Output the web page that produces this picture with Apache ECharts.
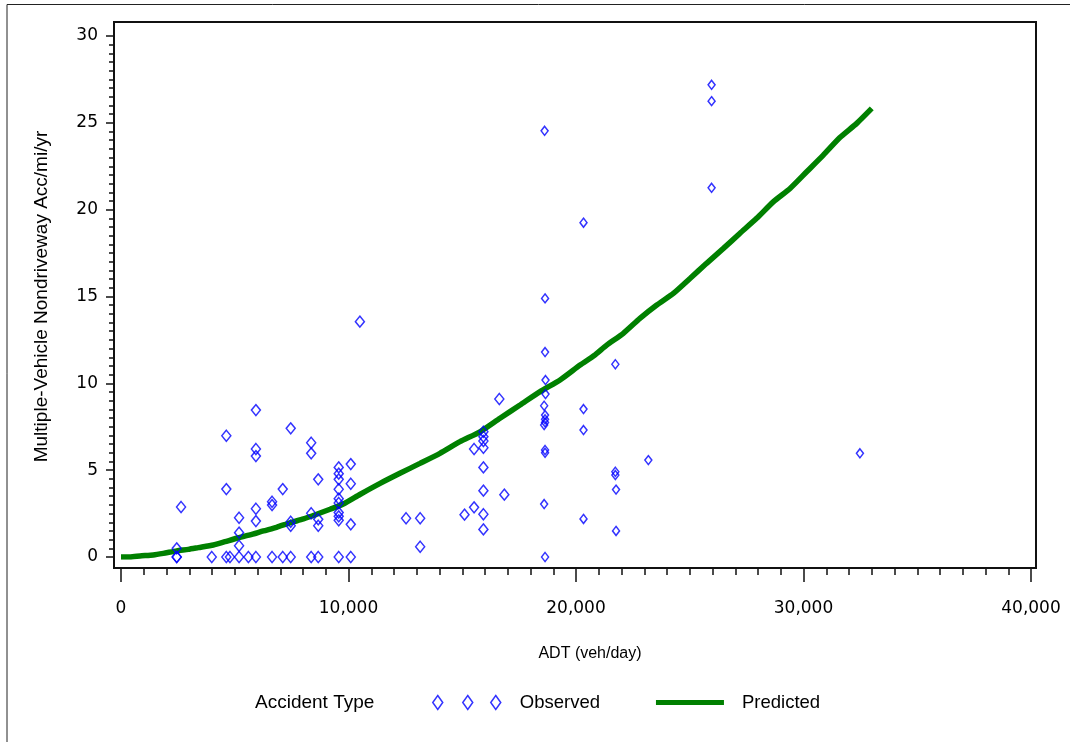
<!DOCTYPE html>
<html>
<head>
<meta charset="utf-8">
<script src="https://cdn.jsdelivr.net/npm/echarts@6/dist/echarts.min.js"></script>
<style>
  html, body { margin: 0; padding: 0; background: #fff; }
  #chart { width: 1070px; height: 742px; }
</style>
</head>
<body>
<div id="chart"></div>
<script>
// observed accident rates as [ADT, rate]
const observedZero = [2450, 2450, 3990, 4630, 4790, 5190, 5600, 5930, 6640, 7110, 7460, 8360, 8670, 9570, 10100, 18640]
const observedPoints = [
  [2450, 0.5], [2640, 2.88],
  [4630, 6.98], [4630, 3.91],
  [5190, 2.26], [5190, 1.40], [5190, 0.65],
  [5930, 8.46], [5930, 6.22], [5930, 5.81], [5930, 2.78], [5930, 2.07],
  [6640, 3.18], [6640, 2.99],
  [7110, 3.91],
  [7460, 7.41], [7460, 2.03], [7460, 1.80],
  [8360, 6.58], [8360, 5.97], [8360, 2.52],
  [8670, 4.47], [8670, 2.17], [8670, 1.80],
  [9570, 5.16], [9570, 4.80], [9570, 4.47], [9570, 3.90], [9570, 3.36], [9570, 3.11], [9570, 2.56], [9570, 2.34], [9570, 2.11],
  [10100, 5.35], [10100, 4.22], [10100, 1.88],
  [10500, 13.55],
  [12530, 2.23], [13150, 2.23], [13150, 0.59],
  [15100, 2.44], [15520, 6.22], [15520, 2.86],
  [15930, 7.21], [15930, 6.93], [15930, 6.68], [15930, 6.29], [15930, 5.16], [15930, 3.82], [15930, 2.46], [15930, 1.59],
  [16630, 9.10], [16850, 3.59],
  [18620, 24.54], [18640, 14.89], [18640, 11.8], [18660, 10.19], [18660, 9.38], [18600, 8.71], [18640, 8.17], [18640, 7.93], [18640, 7.75], [18600, 7.60],
  [18640, 6.16], [18640, 6.00], [18600, 3.05],
  [20330, 19.25], [20330, 8.52], [20330, 7.31], [20330, 2.19],
  [21730, 11.1], [21730, 4.91], [21730, 4.72], [21760, 3.88], [21760, 1.50],
  [23180, 5.58],
  [25960, 27.19], [25960, 26.25], [25960, 21.26],
  [32480, 5.97]
]

// predicted curve
const predictedX = [0, 400, 835, 1420, 1860, 2450, 2960, 3400, 4060, 4570, 5090, 5670, 6260, 6840, 7430, 8020, 8600, 9190, 9770, 10500,
  11390, 12260, 13140, 14020, 14900, 15780, 16660, 17540, 18420, 19300, 20180, 20800, 21350, 22080, 22810, 23550, 24280, 25010,
  25740, 26480, 27210, 27940, 28670, 29410, 30140, 30870, 31600, 32340, 33000]
const predictedY = [0, 0, 0.06, 0.12, 0.21, 0.35, 0.44, 0.54, 0.69, 0.88, 1.08, 1.27, 1.50, 1.71, 1.97, 2.19, 2.46, 2.75, 3.05, 3.6,
  4.24, 4.82, 5.39, 5.97, 6.64, 7.21, 7.99, 8.75, 9.52, 10.19, 11.05, 11.6, 12.2, 12.88, 13.74, 14.51, 15.18, 16.04,
  16.91, 17.77, 18.64, 19.5, 20.45, 21.22, 22.18, 23.14, 24.15, 24.97, 25.83]

const xTicks = [0, 10000, 20000, 30000, 40000]
const yTicks = [0, 5, 10, 15, 20, 25, 30]

const font = 'Liberation Sans'
const numFont = 'DejaVu Sans'

var myChart = echarts.init(document.getElementById('chart'))

const observedData = observedZero.map(x => [x, 0]).concat(observedPoints)
const predictedData = predictedX.map((x, i) => [x, predictedY[i]])

const option = {
  animation: false,
  backgroundColor: '#fff',
  grid: {
    left: 121,
    right: 39,
    top: 36,
    bottom: 185
  },
  graphic: [
    // outer border (left + top only visible)
    { type: 'polyline', shape: { points: [[7, 742], [7, 4.5], [1070, 4.5]] }, style: { stroke: '#222', lineWidth: 1, fill: null }, silent: true },
    // plot frame
    { type: 'rect', shape: { x: 114, y: 22, width: 922, height: 546 }, style: { stroke: '#111', lineWidth: 2, fill: null }, silent: true, z: 10 },
    // x axis title
    { type: 'text', x: 590, y: 654, style: { text: 'ADT (veh/day)', font: '16px "Liberation Sans"', fill: '#000', align: 'center', verticalAlign: 'middle' } },
    { type: 'text', left: 255, top: 693, style: { text: 'Accident Type', font: '19px "Liberation Sans"', fill: '#000' } }
  ],
  legend: {
    left: 427,
    top: 688,
    itemWidth: 68,
    itemHeight: 14,
    itemGap: 56,
    symbolKeepAspect: false,
    textStyle: { fontFamily: font, fontSize: 18.5, color: '#000' },
    data: [
      {
        name: 'Observed',
        icon: 'path://M5 0 L10 7 L5 14 L0 7 Z M35 0 L40 7 L35 14 L30 7 Z M63 0 L68 7 L63 14 L58 7 Z',
        itemStyle: { color: 'rgba(0,0,0,0)', borderColor: '#0000ff', borderWidth: 1.5 },
        textStyle: { padding: [0, 0, 0, 14] }
      },
      {
        name: 'Predicted',
        icon: 'path://M0 0 M0 4.5 L71 4.5 L71 9.5 L0 9.5 Z M71 14',
        itemStyle: { color: '#008000', borderWidth: 0 },
        textStyle: { padding: [0, 0, 0, 13] }
      }
    ]
  },
  xAxis: {
    type: 'value',
    min: xTicks[0],
    max: xTicks[xTicks.length - 1],
    interval: 10000,
    offset: 11,
    axisLine: { show: true, onZero: false, lineStyle: { color: '#111', width: 2 } },
    axisTick: { show: true, length: 14, lineStyle: { color: '#111', width: 1.5 } },
    minorTick: { show: true, splitNumber: 10, length: 7, lineStyle: { color: '#111', width: 1.5 } },
    axisLabel: {
      margin: 32,
      fontFamily: numFont,
      fontSize: 17,
      color: '#000',
      formatter: v => v.toLocaleString('en-US')
    },
    splitLine: { show: false }
  },
  yAxis: {
    type: 'value',
    min: yTicks[0],
    max: yTicks[yTicks.length - 1],
    interval: 5,
    offset: 7,
    name: 'Multiple-Vehicle Nondriveway Acc/mi/yr',
    nameLocation: 'middle',
    nameGap: 63,
    nameTextStyle: { fontFamily: font, fontSize: 19, color: '#000' },
    axisLine: { show: true, onZero: false, lineStyle: { color: '#111', width: 2 } },
    axisTick: { show: true, length: 8, lineStyle: { color: '#111', width: 1.5 } },
    minorTick: { show: true, splitNumber: 10, length: 5, lineStyle: { color: '#111', width: 1.5 } },
    axisLabel: { margin: 16, fontFamily: numFont, fontSize: 17, color: '#000' },
    splitLine: { show: false }
  },
  series: [
    {
      name: 'Observed',
      type: 'scatter',
      symbol: 'diamond',
      symbolSize: function (val) {
        return val[0] > 18000 ? [7, 9] : [9, 11]
      },
      itemStyle: { color: 'rgba(0,0,0,0)', borderColor: '#0000ff', borderWidth: 1.5 },
      data: observedData,
      z: 3
    },
    {
      name: 'Predicted',
      type: 'line',
      showSymbol: false,
      symbol: 'none',
      smooth: 0.2,
      lineStyle: { color: '#008000', width: 5.5 },
      itemStyle: { color: '#008000' },
      data: predictedData,
      z: 2
    }
  ]
}

myChart.setOption(option)
</script>
</body>
</html>
